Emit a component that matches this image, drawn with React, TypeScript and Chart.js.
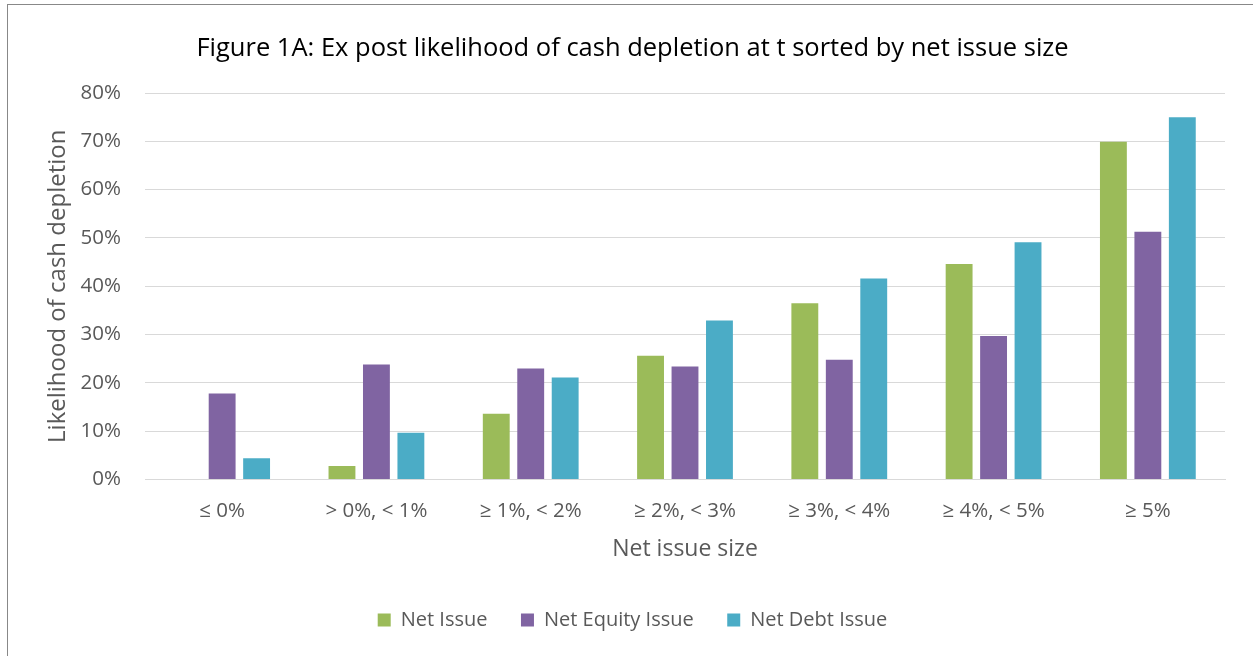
import React, { useEffect, useRef } from "react";
import { Chart, registerables } from "chart.js";

Chart.register(...registerables);

const categories = ["≤ 0%", "> 0%, < 1%", "≥ 1%, < 2%", "≥ 2%, < 3%", "≥ 3%, < 4%", "≥ 4%, < 5%", "≥ 5%"];
const netIssue = [null, 2.8, 13.6, 25.6, 36.5, 44.6, 69.9];
const netEquityIssue = [17.8, 23.8, 23.0, 23.4, 24.8, 29.7, 51.3];
const netDebtIssue = [4.4, 9.7, 21.1, 32.9, 41.6, 49.1, 75.0];
const yTicks = [0, 10, 20, 30, 40, 50, 60, 70, 80];

const FONT = "'Open Sans', sans-serif";

export default function App() {
  const ref = useRef<HTMLCanvasElement | null>(null);
  useEffect(() => {
    if (!ref.current) return;
    const chart = new Chart(ref.current, {
      type: "bar",
      data: {
        labels: categories,
        datasets: [
          { label: "Net Issue", data: netIssue as any, backgroundColor: "#9BBB59" },
          { label: "Net Equity Issue", data: netEquityIssue, backgroundColor: "#8064A2" },
          { label: "Net Debt Issue", data: netDebtIssue, backgroundColor: "#4BACC6" },
        ],
      },
      options: {
        animation: false,
        responsive: false,
        maintainAspectRatio: false,
        datasets: { bar: { categoryPercentage: 0.67, barPercentage: 0.78 } },
        layout: { padding: { left: 40, right: 28, top: 10, bottom: 16 } },
        plugins: {
          tooltip: { enabled: false },
          title: {
            display: true,
            text: "Figure 1A: Ex post likelihood of cash depletion at t sorted by net issue size",
            color: "#000000",
            font: { family: FONT, size: 25.5, weight: "normal" },
            padding: { top: 23, bottom: 29.4 },
          },
          legend: {
            display: true,
            position: "bottom",
            labels: {
              color: "#595959",
              font: { family: FONT, size: 20 },
              boxWidth: 13,
              boxHeight: 13,
              padding: 33.5,
            },
          },
        },
        scales: {
          x: {
            grid: { display: false, drawTicks: false },
            border: { display: true, color: "#D9D9D9", width: 1 },
            ticks: { color: "#595959", font: { family: FONT, size: 20.5 }, padding: 19.5, maxRotation: 0 },
            title: {
              display: true,
              text: "Net issue size",
              color: "#595959",
              font: { family: FONT, size: 23 },
              padding: { top: 0, bottom: 13 },
            },
            afterFit: (s: any) => { s.height = 97; },
          },
          y: {
            min: 0,
            max: 80,
            afterBuildTicks: (s: any) => { s.ticks = yTicks.map((v) => ({ value: v })); },
            grid: { color: "#D9D9D9", lineWidth: 1, drawTicks: false },
            border: { display: false },
            ticks: {
              color: "#595959",
              font: { family: FONT, size: 20.5 },
              padding: 24,
              callback: (v: any) => v + "%",
            },
            title: {
              display: true,
              text: "Likelihood of cash depletion",
              color: "#595959",
              font: { family: FONT, size: 24 },
              padding: { top: 3.5, bottom: 0 },
            },
            afterFit: (s: any) => { s.width = 105; },
          },
        },
      },
    });
    return () => chart.destroy();
  }, []);

  return (
    <div style={{ position: "fixed", left: 0, top: 0, width: 1253, height: 656, overflow: "hidden", background: "#fff" }}>
      <canvas ref={ref} width={1253} height={656} style={{ position: "absolute", left: 0, top: 0 }} />
      <div
        style={{
          position: "absolute",
          left: 7,
          top: 4,
          width: 1400,
          height: 800,
          borderLeft: "1.5px solid #888888",
          borderTop: "1.5px solid #888888",
          pointerEvents: "none",
        }}
      />
    </div>
  );
}
